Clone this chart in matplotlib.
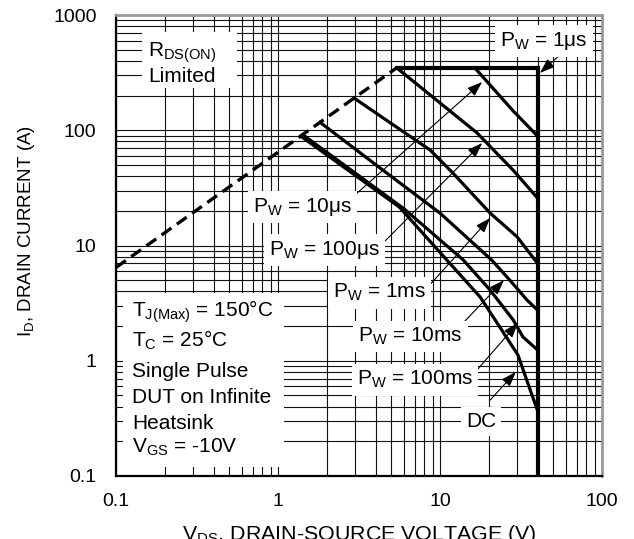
import matplotlib
matplotlib.use("Agg")
import matplotlib.pyplot as plt
from matplotlib.ticker import FixedLocator, LogLocator, NullFormatter, FixedFormatter
from matplotlib.patches import Rectangle

plt.rcParams['font.family'] = ['Liberation Sans', 'DejaVu Sans']
plt.rcParams['mathtext.fontset'] = 'custom'
plt.rcParams['mathtext.rm'] = 'Liberation Sans'
plt.rcParams['mathtext.it'] = 'Liberation Sans'
plt.rcParams['mathtext.bf'] = 'Liberation Sans:bold'

# R_DS(ON) limit line
rdson_v = [0.1, 5.4]
rdson_i = [6.45, 348]

# Safe operating area boundaries (V_DS in V, I_D in A)
pw_1us_v = [5.4, 40, 40]
pw_1us_i = [348, 348, 0.1]
pw_10us_v = [5.4, 16.4, 28.3, 40]
pw_10us_i = [348, 348, 147, 89]
pw_100us_v = [5.4, 16.9, 28.3, 40]
pw_100us_i = [348, 95, 45, 25.8]
pw_1ms_v = [2.95, 8.67, 12.0, 20.4, 29.9, 40]
pw_1ms_i = [190, 67.5, 42.6, 19.1, 11.9, 7.0]
pw_10ms_v = [1.82, 4.27, 10, 20.8, 27, 34.4, 40]
pw_10ms_i = [117, 47, 19.1, 7.5, 5.0, 3.37, 2.75]
pw_100ms_v = [1.42, 6.0, 13.9, 20.4, 28.3, 32.5, 40]
pw_100ms_i = [91.6, 20.8, 7.5, 4.1, 2.26, 1.61, 1.24]
dc_v = [1.38, 5.6, 11, 17.7, 23.4, 30.3, 36, 40]
dc_i = [89, 21.6, 7.5, 3.57, 1.96, 1.12, 0.56, 0.37]

x_ticks = [0.1, 1, 10, 100]
x_ticklabels = ['0.1', '1', '10', '100']
y_ticks = [0.1, 1, 10, 100, 1000]
y_ticklabels = ['0.1', '1', '10', '100', '1000']

fig = plt.figure(figsize=(6.34, 5.39), dpi=100)
ax = fig.add_axes([116/634, 63/539, 486/634, 461/539])
ax.set_xscale('log')
ax.set_yscale('log')
ax.set_xlim(0.1, 100)
ax.set_ylim(0.1, 1000)

ax.xaxis.set_major_locator(FixedLocator(x_ticks))
ax.xaxis.set_major_formatter(FixedFormatter(x_ticklabels))
ax.yaxis.set_major_locator(FixedLocator(y_ticks))
ax.yaxis.set_major_formatter(FixedFormatter(y_ticklabels))
ax.xaxis.set_minor_locator(LogLocator(base=10, subs=range(2, 10)))
ax.yaxis.set_minor_locator(LogLocator(base=10, subs=range(2, 10)))
ax.xaxis.set_minor_formatter(NullFormatter())
ax.yaxis.set_minor_formatter(NullFormatter())
ax.tick_params(which='both', length=0, labelsize=14)
ax.tick_params(axis='y', pad=14)
ax.tick_params(axis='x', pad=12)
ax.grid(True, which='both', color='#111111', lw=0.8, zorder=0)
ax.set_axisbelow(True)

for s in ('left', 'bottom'):
    ax.spines[s].set_color('black')
    ax.spines[s].set_linewidth(1.6)
for s in ('top', 'right'):
    ax.spines[s].set_color('#9a9a9a')
    ax.spines[s].set_linewidth(2.0)

# curves
ax.plot(rdson_v, rdson_i, color='black', lw=2.4, ls=(0, (3.6, 2.0)), zorder=4)
ax.plot(pw_1us_v, pw_1us_i, color='black', lw=3.0, zorder=5, solid_joinstyle='miter')
lw = 2.3
for v, i in [(pw_10us_v, pw_10us_i), (pw_100us_v, pw_100us_i), (pw_1ms_v, pw_1ms_i),
             (pw_10ms_v, pw_10ms_i), (pw_100ms_v, pw_100ms_i), (dc_v, dc_i)]:
    ax.plot(v, i, color='black', lw=lw, zorder=4)

# arrows
arrow_kw = dict(arrowstyle='-|>,head_length=0.7,head_width=0.25', color='black',
                lw=0.8, shrinkA=0, shrinkB=0, mutation_scale=13)
arrows = [((55, 450), (41.4, 314)),
          ((3.08, 28.5), (18.2, 262)),
          ((4.45, 10.5), (18.2, 77.5)),
          ((8.43, 4.37), (20.4, 17.3)),
          ((13.9, 2.13), (24.8, 5.0)),
          ((16.9, 0.83), (30.3, 2.13)),
          ((20.4, 0.456), (29.4, 0.80))]
for start, tip in arrows:
    ax.annotate('', xy=tip, xytext=start, xycoords='data', textcoords='data',
                arrowprops=arrow_kw, zorder=3)

fs = 15
box = dict(boxstyle='square,pad=0.25', facecolor='white', edgecolor='none')
labels = [(0.790, 0.9328, r'P$_\mathrm{W}$ = 1μs'),
          (0.2819, 0.5727, r'P$_\mathrm{W}$ = 10μs'),
          (0.3148, 0.4794, r'P$_\mathrm{W}$ = 100μs'),
          (0.4465, 0.3861, r'P$_\mathrm{W}$ = 1ms'),
          (0.4979, 0.2907, r'P$_\mathrm{W}$ = 10ms'),
          (0.4959, 0.1974, r'P$_\mathrm{W}$ = 100ms'),
          (0.7202, 0.1063, 'DC')]
for x, y, t in labels:
    ax.text(x, y, t, transform=ax.transAxes, fontsize=fs, ha='left', va='baseline',
            bbox=box, zorder=3.5)

# R_DS(ON) note
ax.add_patch(Rectangle((0.0535, 0.8416), 0.1955, 0.1215, transform=ax.transAxes,
                       facecolor='white', edgecolor='none', zorder=3.5))
ax.text(0.0658, 0.9089, r'R$_\mathrm{DS(ON)}$', transform=ax.transAxes, fontsize=fs,
        va='baseline', zorder=3.6)
ax.text(0.0658, 0.8547, 'Limited', transform=ax.transAxes, fontsize=fs,
        va='baseline', zorder=3.6)

# test conditions
ax.add_patch(Rectangle((0.0144, 0.0195), 0.3313, 0.3775, transform=ax.transAxes,
                       facecolor='white', edgecolor='none', zorder=3.5))
cond_lines = [r'T$_\mathrm{J(Max)}$ = 150°C', r'T$_\mathrm{C}$ = 25°C', 'Single Pulse',
              'DUT on Infinite', 'Heatsink', r'V$_\mathrm{GS}$ = -10V']
cond_y = [0.3449, 0.2798, 0.2148, 0.1584, 0.1020, 0.0499]
for t, y in zip(cond_lines, cond_y):
    ax.text(0.0329, y, t, transform=ax.transAxes, fontsize=fs, va='baseline', zorder=3.6)

fig.text(359/634, -1/539, r'V$_\mathrm{DS}$, DRAIN-SOURCE VOLTAGE (V)', fontsize=15.4,
         ha='center', va='baseline')
fig.text(27/634, 1 - 231/539, r'I$_\mathrm{D}$, DRAIN CURRENT (A)', fontsize=13.5,
         ha='center', va='center', rotation=90)

fig.savefig('out.png', dpi=100)
